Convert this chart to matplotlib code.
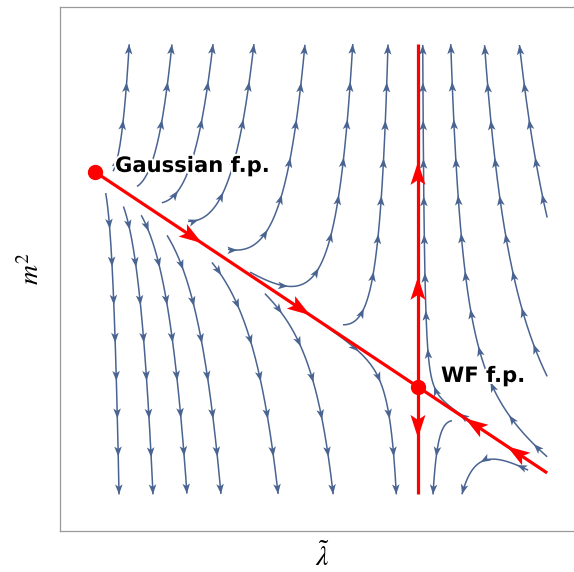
import numpy as np
import matplotlib
matplotlib.use('Agg')
import matplotlib.pyplot as plt
from matplotlib.patches import Polygon
import matplotlib.patheffects as pe

plt.rcParams['mathtext.fontset'] = 'stix'

# ---- fixed points of the RG flow ----
fp_names = ['Gaussian f.p.', 'WF f.p.']
fp_lam = [0.0, 1.0]
fp_m2 = [0.0, -1.0]

# ---- flow parameters (linearised flow around the critical line) ----
eps = 0.55            # lambda eigenvalue
mass_rate0 = 2.0      # m^2 eigenvalue at lambda = 0
mass_rate_slope = 0.4 # decrease of the m^2 eigenvalue with lambda

# ---- stream plot range ----
lam_range = [0.0, 1.4]
m2_range = [-1.5, 0.595]

# ---- streamline seeds (where each drawn streamline begins) ----
seed_lam = [0.056, 0.130, 0.207, 0.288, 0.412, 0.480, 0.768,
            0.033, 0.088, 0.143, 0.223, 0.362, 0.526, 0.721,
            1.400, 1.400, 1.400, 1.200,
            1.105, 1.341]
seed_m2 = [0.003, -0.0675, -0.1434, -0.230, -0.3597, -0.466, -0.711,
           -0.0985, -0.1607, -0.2016, -0.2948, -0.421, -0.566, -0.7245,
           -0.2125, -0.951, -1.325, -1.1985,
           -1.157, -1.387]

# ---- red arrow tips ----
red_diag_tips = [0.331, 0.666, 1.146, 1.276]   # lambda positions on the critical line
red_vert_tips = [0.0465, -0.488, -1.237]       # m^2 positions on lambda = lambda*

stream_color = '#4a6491'
red = '#ff0000'

lam_s = fp_lam[1]
slope = (fp_m2[1] - fp_m2[0]) / (fp_lam[1] - fp_lam[0])


def flow(lam, m2):
    u = m2 - fp_m2[0] - slope * (lam - fp_lam[0])
    dlam = eps * lam * (1 - lam / lam_s)
    du = (mass_rate0 - mass_rate_slope * lam) * u
    return dlam, du + slope * dlam


def integrate(l0, m0, dt=0.002, nmax=40000):
    pts = [(l0, m0)]
    l, m = l0, m0
    for _ in range(nmax):
        k1 = flow(l, m)
        k2 = flow(l + 0.5 * dt * k1[0], m + 0.5 * dt * k1[1])
        k3 = flow(l + 0.5 * dt * k2[0], m + 0.5 * dt * k2[1])
        k4 = flow(l + dt * k3[0], m + dt * k3[1])
        l += dt * (k1[0] + 2 * k2[0] + 2 * k3[0] + k4[0]) / 6
        m += dt * (k1[1] + 2 * k2[1] + 2 * k3[1] + k4[1]) / 6
        if not (lam_range[0] - 1e-9 <= l <= lam_range[1] + 1e-3 and m2_range[0] <= m <= m2_range[1]):
            break
        pts.append((l, m))
    return np.array(pts)


W, H = 574, 572
fig = plt.figure(figsize=(W / 100, H / 100), dpi=100)
ax = fig.add_axes([59.5 / W, 1 - 531 / H, (583 - 59.5) / W, (531 - 7) / H])
ax.set_xlim(-0.110, 1.511)
ax.set_ylim(-1.670, 0.767)
ax.set_xticks([])
ax.set_yticks([])
for s in ax.spines.values():
    s.set_color('#9a9a9a')
    s.set_linewidth(0.9)


def arrowhead(tip, direction, length, half_w, notch, color, z):
    T = ax.transData
    tipd = T.transform(tip)
    d = np.asarray(direction, float)
    d = d / np.hypot(*d)
    n = np.array([-d[1], d[0]])
    base = tipd - d * length
    pts = np.array([tipd, base + n * half_w, base + d * notch, base - n * half_w])
    ax.add_patch(Polygon(T.inverted().transform(pts), closed=True,
                         fc=color, ec='none', zorder=z))


# ---- streamlines ----
spacing = 38.0
for l0, m0 in zip(seed_lam, seed_m2):
    p = integrate(l0, m0)
    ax.plot(p[:, 0], p[:, 1], color=stream_color, lw=1.1, zorder=2,
            solid_capstyle='butt')
    disp = ax.transData.transform(p)
    seg = np.hypot(*np.diff(disp, axis=0).T)
    s = np.concatenate([[0], np.cumsum(seg)])
    total = s[-1]
    pos = total
    while pos > 6:
        i = np.searchsorted(s, pos)
        i = min(max(i, 1), len(s) - 1)
        j = max(i - 3, 0)
        d = disp[i] - disp[j]
        tip = ax.transData.inverted().transform(disp[i])
        arrowhead(tip, d, 10, 3.8, 2.5, stream_color, 2.5)
        pos -= spacing

# ---- red critical lines ----
lam_line = np.array([fp_lam[0], lam_range[1]])
ax.plot(lam_line, fp_m2[0] + slope * (lam_line - fp_lam[0]), color=red, lw=2.3, zorder=3,
        solid_capstyle='butt')
ax.plot([lam_s, lam_s], m2_range, color=red, lw=2.3, zorder=3, solid_capstyle='butt')

for lt in red_diag_tips:
    mt = fp_m2[0] + slope * (lt - fp_lam[0])
    dl, dm = flow(lt, mt)
    d = ax.transData.transform((lt + dl * 1e-3, mt + dm * 1e-3)) - ax.transData.transform((lt, mt))
    arrowhead((lt, mt), d, 23, 7.5, 5, red, 3.5)
for mt in red_vert_tips:
    dl, dm = flow(lam_s, mt)
    d = ax.transData.transform((lam_s, mt + dm * 1e-3)) - ax.transData.transform((lam_s, mt))
    arrowhead((lam_s, mt), d, 23, 7.5, 5, red, 3.5)

# ---- fixed points ----
ax.plot(fp_lam, fp_m2, 'o', color=red, ms=10, zorder=4)
label_offsets = [(20, 6), (23, 11)]
for name, l, m, off in zip(fp_names, fp_lam, fp_m2, label_offsets):
    ax.annotate(name, (l, m), xytext=off, textcoords='offset pixels',
                ha='left', va='center', fontsize=15.2, fontweight='bold',
                family='DejaVu Sans', zorder=5,
                path_effects=[pe.withStroke(linewidth=3, foreground='white')])

fig.text(31 / W, 1 - 269 / H, r'$m^2$', rotation=90, ha='center', va='center', fontsize=20)
fig.text(322 / W, 1 - 557 / H, r'$\tilde{\lambda}$', ha='center', va='center', fontsize=20)

fig.savefig('out.png', dpi=100)
